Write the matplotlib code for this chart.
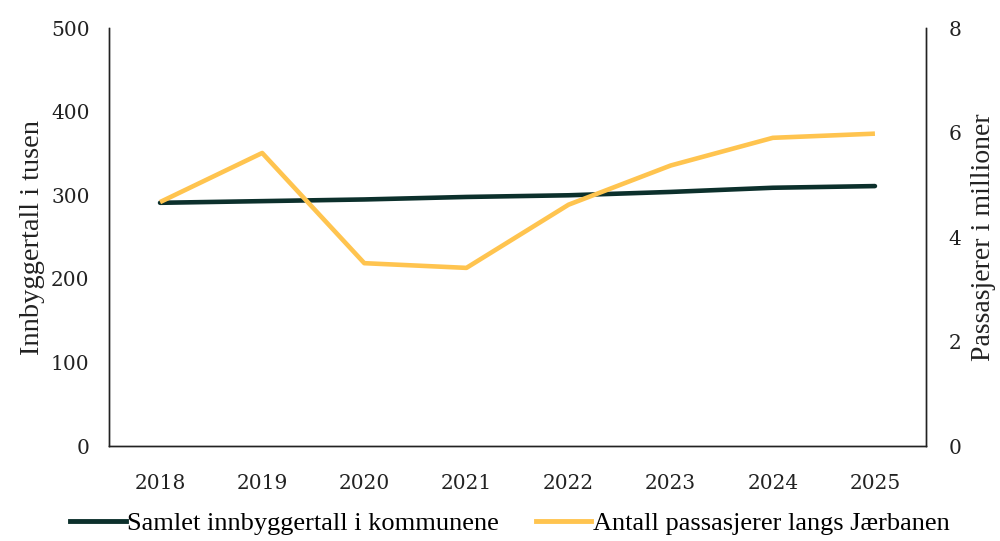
import matplotlib
matplotlib.use("Agg")
import matplotlib.pyplot as plt
from matplotlib.lines import Line2D

years = ["2018", "2019", "2020", "2021", "2022", "2023", "2024", "2025"]
innbyggere = [291, 293, 295, 298, 300, 304, 309, 311]
passasjerer = [4.67, 5.61, 3.50, 3.41, 4.62, 5.37, 5.90, 5.98]

dark = "#0c302c"
yellow = "#ffc44f"
tickfont = {"family": "DejaVu Serif", "size": 14.5, "color": "#222222"}

fig = plt.figure(figsize=(10, 5.41), dpi=100)
ax = fig.add_axes([0.109, 0.1756, 0.817, 0.7724])
ax2 = ax.twinx()

x = list(range(len(years)))
ax.plot(x, innbyggere, color=dark, lw=3.3, solid_capstyle="round", zorder=2)
ax2.plot(x, passasjerer, color=yellow, lw=3.3, solid_capstyle="butt", zorder=3)

ax.set_xlim(-0.5, len(years) - 0.5)
ax.set_ylim(0, 500)
ax2.set_ylim(0, 8)
ax.set_yticks([0, 100, 200, 300, 400, 500])
ax2.set_yticks([0, 2, 4, 6, 8])
ax.set_xticks(x)
ax.set_xticklabels(years)

for a in (ax, ax2):
    a.spines["top"].set_visible(False)
    a.tick_params(length=0)
    for s in ("left", "right", "bottom"):
        a.spines[s].set_color("#222222")
        a.spines[s].set_linewidth(1.0)
for lab in ax.get_xticklabels() + ax.get_yticklabels() + ax2.get_yticklabels():
    lab.set_fontfamily(tickfont["family"])
    lab.set_fontsize(tickfont["size"])
    lab.set_color(tickfont["color"])
ax.tick_params(axis="x", pad=20)
ax.tick_params(axis="y", pad=14)
ax2.tick_params(axis="y", pad=16)

ax.set_ylabel("Innbyggertall i tusen", family="Liberation Serif", fontsize=20.5, color="#222222", labelpad=4)
ax2.set_ylabel("Passasjerer i millioner", family="Liberation Serif", fontsize=20, color="#222222", labelpad=7)

handles = [Line2D([], [], color=dark, lw=3.5), Line2D([], [], color=yellow, lw=3.5)]
labels = ["Samlet innbyggertall i kommunene", "Antall passasjerer langs Jærbanen"]
fig.legend(handles, labels, loc="center", bbox_to_anchor=(0.51, 0.032), ncol=2, frameon=False,
           prop={"family": "Liberation Serif", "size": 19}, handlelength=2.1, handletextpad=0.05,
           columnspacing=1.4)

fig.savefig("out.png", dpi=100)
